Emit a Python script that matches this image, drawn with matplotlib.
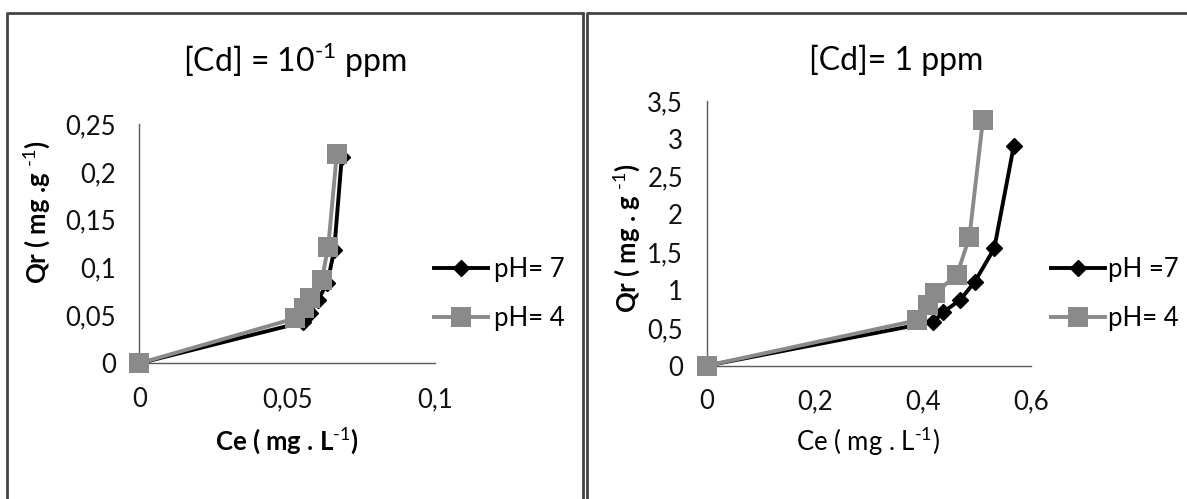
import matplotlib
matplotlib.use("Agg")
import matplotlib.pyplot as plt
from matplotlib.lines import Line2D

plt.rcParams["font.family"] = ["Lato", "DejaVu Sans"]
plt.rcParams["mathtext.fontset"] = "custom"
plt.rcParams["mathtext.rm"] = "Lato"
plt.rcParams["mathtext.bf"] = "Lato:bold"

# [Cd] = 0.1 ppm
ce_low_ph7 = [0.0, 0.0553, 0.0577, 0.0604, 0.0636, 0.0659, 0.0685]
qr_low_ph7 = [0.0, 0.043, 0.053, 0.066, 0.084, 0.118, 0.216]
ce_low_ph4 = [0.0, 0.0527, 0.0558, 0.0577, 0.0617, 0.0639, 0.0668]
qr_low_ph4 = [0.0, 0.047, 0.0575, 0.068, 0.087, 0.122, 0.219]

# [Cd] = 1 ppm
ce_high_ph7 = [0.0, 0.419, 0.438, 0.469, 0.496, 0.532, 0.568]
qr_high_ph7 = [0.0, 0.58, 0.71, 0.87, 1.11, 1.55, 2.90]
ce_high_ph4 = [0.0, 0.389, 0.409, 0.422, 0.463, 0.486, 0.511]
qr_high_ph4 = [0.0, 0.60, 0.80, 0.96, 1.20, 1.70, 3.245]

low_xticks = [0, 0.05, 0.1]
low_xlabels = ["0", "0,05", "0,1"]
low_yticks = [0, 0.05, 0.1, 0.15, 0.2, 0.25]
low_ylabels = ["0", "0,05", "0,1", "0,15", "0,2", "0,25"]

high_xticks = [0, 0.2, 0.4, 0.6]
high_xlabels = ["0", "0,2", "0,4", "0,6"]
high_yticks = [0, 0.5, 1, 1.5, 2, 2.5, 3, 3.5]
high_ylabels = ["0", "0,5", "1", "1,5", "2", "2,5", "3", "3,5"]

W, H = 1187, 499
BLACK = "#000000"
GRAY = "#8a8a8a"
SPINE = "#595959"
FRAME = "#444444"
FS = 18.5
TITLE_FS = 23

fig = plt.figure(figsize=(W / 100, H / 100), dpi=100)


def px_axes(x0, y0, x1, y1):
    return fig.add_axes([x0 / W, 1 - y1 / H, (x1 - x0) / W, (y1 - y0) / H])


def style_axes(ax, xlim, ylim, xt, xl, yt, yl):
    ax.set_xlim(*xlim)
    ax.set_ylim(*ylim)
    ax.set_xticks(xt)
    ax.set_xticklabels(xl)
    ax.set_yticks(yt)
    ax.set_yticklabels(yl)
    ax.tick_params(length=0, labelsize=FS, pad=17, colors="#111111")
    for s in ("top", "right"):
        ax.spines[s].set_visible(False)
    for s in ("left", "bottom"):
        ax.spines[s].set_color(SPINE)
        ax.spines[s].set_linewidth(1.0)
    ax.patch.set_alpha(0)


def plot_series(ax, x7, y7, x4, y4):
    l7, = ax.plot(x7, y7, color=BLACK, lw=2.8, marker="D", ms=8.5,
                  mfc=BLACK, mec=BLACK, clip_on=False, zorder=3)
    l4, = ax.plot(x4, y4, color=GRAY, lw=2.8, marker="s", ms=15,
                  mfc=GRAY, mec=GRAY, mew=0, clip_on=False, zorder=4)
    return l7, l4


SUP = r"$^{\text{-1}}$"

# left panel
ax1 = px_axes(139.3, 124, 435, 363.3)
style_axes(ax1, (0, 0.1), (0, 0.25), low_xticks, low_xlabels, low_yticks, low_ylabels)
h7, h4 = plot_series(ax1, ce_low_ph7, qr_low_ph7, ce_low_ph4, qr_low_ph4)
ax1.legend([h7, h4], ["pH= 7", "pH= 4"], loc="center left",
           bbox_to_anchor=(434 / W, 1 - 294 / H), bbox_transform=fig.transFigure,
           frameon=False, fontsize=FS, handlelength=2.1, handletextpad=0.25,
           labelspacing=0.95, borderpad=0, borderaxespad=0)

fig.text(294.7 / W, 1 - 60 / H, "[Cd] = 10" + SUP + " ppm", fontsize=TITLE_FS,
         ha="center", va="center")
fig.text(36 / W, 1 - 212 / H, "Qr ( mg .g " + SUP + ")", fontsize=FS,
         fontweight="bold", rotation=90, ha="center", va="center")
fig.text(287 / W, 1 - 440 / H, "Ce ( mg . L" + SUP + ")", fontsize=FS,
         fontweight="bold", ha="center", va="center")

# right panel
ax2 = px_axes(706.7, 101, 1031, 365.7)
style_axes(ax2, (0, 0.6), (0, 3.5), high_xticks, high_xlabels, high_yticks, high_ylabels)
g7, g4 = plot_series(ax2, ce_high_ph7, qr_high_ph7, ce_high_ph4, qr_high_ph4)
ax2.legend([g7, g4], ["pH =7", "pH= 4"], loc="center left",
           bbox_to_anchor=(1051 / W, 1 - 294 / H), bbox_transform=fig.transFigure,
           frameon=False, fontsize=FS, handlelength=2.1, handletextpad=0.1,
           labelspacing=0.95, borderpad=0, borderaxespad=0)

fig.text(896.6 / W, 1 - 60 / H, "[Cd]= 1 ppm", fontsize=TITLE_FS,
         ha="center", va="center")
fig.text(626 / W, 1 - 238 / H, "Qr ( mg . g " + SUP + ")", fontsize=FS,
         fontweight="bold", rotation=90, ha="center", va="center")
fig.text(868 / W, 1 - 441 / H, "Ce ( mg . L" + SUP + ")", fontsize=FS,
         ha="center", va="center")

# panel frames
def frame_line(xs, ys):
    fig.add_artist(Line2D([x / W for x in xs], [1 - y / H for y in ys],
                          color=FRAME, lw=2.0, transform=fig.transFigure,
                          solid_capstyle="butt"))

frame_line([7.3, 7.3], [H + 5, 13.3])
frame_line([6, 584], [13.3, 13.3])
frame_line([582.7, 582.7], [12, H + 5])
frame_line([587, 587], [H + 5, 13.3])
frame_line([586, W + 5], [13.3, 13.3])

fig.savefig("out.png", dpi=100)
